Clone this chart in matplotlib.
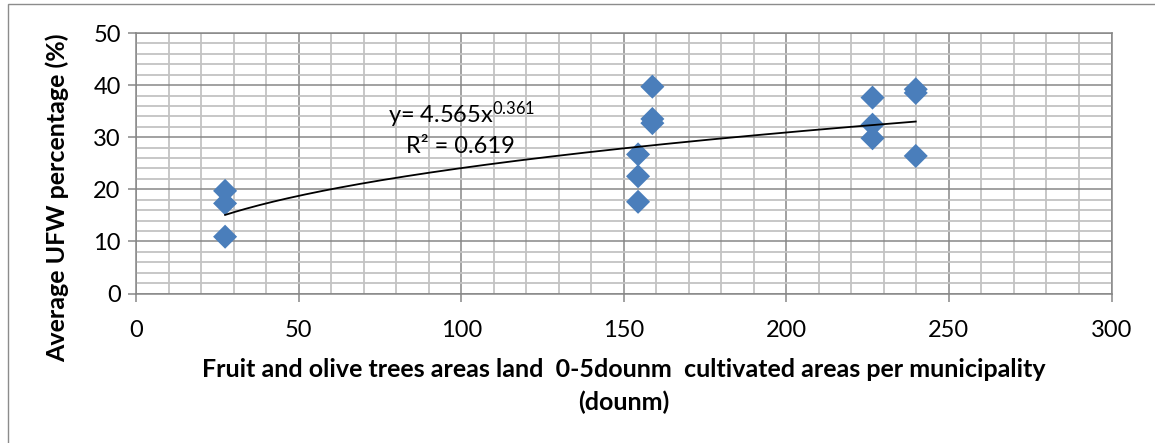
"""UFW percentage vs. fruit/olive tree area, with power-law trendline."""
import matplotlib
matplotlib.use("Agg")
import matplotlib.pyplot as plt
import numpy as np
from matplotlib.patches import Rectangle
from matplotlib.ticker import MultipleLocator

plt.rcParams["font.family"] = ["Lato", "DejaVu Sans"]
plt.rcParams["mathtext.fontset"] = "custom"
plt.rcParams["mathtext.rm"] = "Lato"
plt.rcParams["mathtext.it"] = "Lato"

# dounm per municipality
AREA = [27.4, 27.4, 27.4,
        154.4, 154.4, 154.4,
        158.8, 158.8, 158.8,
        226.5, 226.5, 226.5,
        239.8, 239.8, 239.8]
# average UFW (%)
UFW = [19.7, 17.3, 10.9,
       26.7, 22.5, 17.6,
       39.7, 33.5, 32.7,
       37.6, 32.4, 29.8,
       39.2, 38.5, 26.4]

# power trendline as printed on the chart
FIT_A = 4.565
FIT_B = 0.361
FIT_R2 = 0.619

MAJOR = "#878787"
MINOR = "#c3c3c3"
BLUE = "#4a7ebb"

fig = plt.figure(figsize=(11.55, 4.43), dpi=100)
ax = fig.add_axes([136 / 1155, 1 - 293.5 / 443, (1111.5 - 136) / 1155, (293.5 - 33) / 443])

# chart border
fig.patches.append(Rectangle((8 / 1155, -0.1), 1.2, 1 - 4 / 443 + 0.1,
                             transform=fig.transFigure, fill=False,
                             edgecolor="#8c8c8c", lw=1.0))

ax.set_xlim(0, 300)
ax.set_ylim(0, 50)
ax.xaxis.set_major_locator(MultipleLocator(50))
ax.xaxis.set_minor_locator(MultipleLocator(10))
ax.yaxis.set_major_locator(MultipleLocator(10))
ax.yaxis.set_minor_locator(MultipleLocator(2))

ax.grid(True, which="minor", color=MINOR, lw=1.3, zorder=0)
ax.grid(True, which="major", color=MAJOR, lw=1.1, zorder=0)
ax.set_axisbelow(True)

for sp in ax.spines.values():
    sp.set_color(MAJOR)
    sp.set_linewidth(1.1)

ax.tick_params(which="major", direction="out", length=6, width=1.1, color=MAJOR,
               labelsize=17, pad=13)
ax.tick_params(axis="y", which="major", pad=5)
ax.tick_params(which="minor", length=0)

ax.scatter(AREA, UFW, marker="D", s=150, color=BLUE, edgecolor="none", zorder=3)

xs = np.linspace(min(AREA), max(AREA), 200)
ax.plot(xs, FIT_A * xs ** FIT_B, color="black", lw=1.3, zorder=4)

ax.text(77.5, 32.7, "y= 4.565x$^{0.361}$", fontsize=17, ha="left", va="baseline")
ax.text(99.8, 28.2, f"R² = {FIT_R2}", fontsize=17, ha="center", va="center")

ax.set_ylabel("Average UFW percentage (%)", fontsize=18, fontweight="bold")
ax.yaxis.set_label_coords(-67 / 975.5, (293.5 - 198) / 260.5)
ax.set_xlabel("Fruit and olive trees areas land  0-5dounm  cultivated areas per municipality\n(dounm)",
              fontsize=18, fontweight="bold", labelpad=12, linespacing=1.5)

fig.savefig("out.png", dpi=100)
